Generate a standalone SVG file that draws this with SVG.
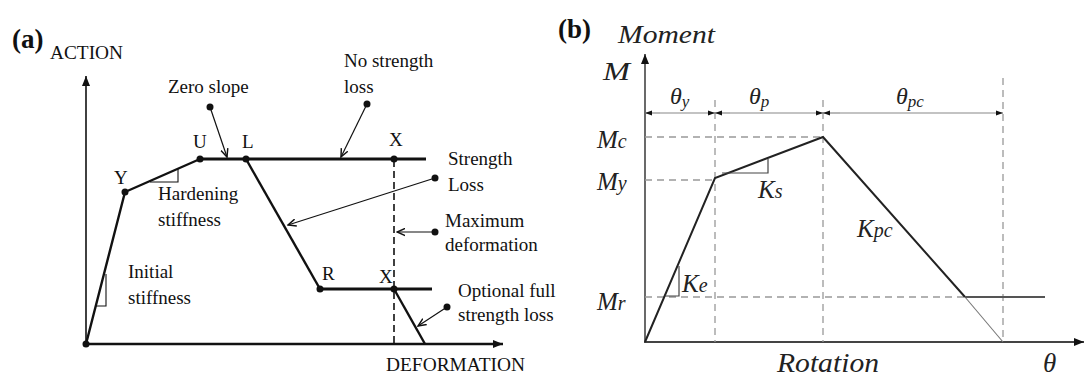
<svg xmlns="http://www.w3.org/2000/svg" width="1086" height="378" viewBox="0 0 1086 378">
<defs>
<style>
text{font-family:'Liberation Serif','DejaVu Serif',serif}
.t{fill:#111}
.a{font-size:19px}
.i{font-style:italic;fill:#222}
.bold{font-weight:bold;font-size:27px;fill:#111}
.ln{stroke:#111;fill:none}
.thick{stroke:#111;stroke-width:3.2;fill:none}
.lead{stroke:#111;stroke-width:1.2;fill:none;marker-end:url(#ah)}
.dash{stroke:#999;stroke-width:1.3;stroke-dasharray:7 5;fill:none}
</style>
<marker id="ah" viewBox="0 0 10 10" refX="9" refY="5" markerWidth="9" markerHeight="9" markerUnits="userSpaceOnUse" orient="auto">
<path d="M0,1 L9,5 L0,9" fill="none" stroke="#111" stroke-width="1.6"/>
</marker>
<marker id="ax" viewBox="0 0 10 10" refX="10" refY="5" markerWidth="14" markerHeight="10" markerUnits="userSpaceOnUse" orient="auto">
<path d="M0,1 L10,5 L0,9 Z" fill="#111"/>
</marker>
<marker id="dim" viewBox="0 0 10 10" refX="10" refY="5" markerWidth="16" markerHeight="7" markerUnits="userSpaceOnUse" orient="auto">
<path d="M0,1.5 L10,5 L0,8.5 Z" fill="#111"/>
</marker>
</defs>

<!-- Panel (a) -->
<g id="panel-a">
<text class="bold" x="12" y="48" font-family="Liberation Serif, serif">(a)</text>
<text class="t" x="50" y="59" font-size="18" textLength="73" lengthAdjust="spacingAndGlyphs" font-family="Liberation Serif, serif">ACTION</text>
<text class="t" x="386" y="371" font-size="19" textLength="139" lengthAdjust="spacingAndGlyphs" font-family="Liberation Serif, serif">DEFORMATION</text>
</g>

<g id="axes-a">
<line class="ln" x1="86" y1="344" x2="86" y2="76" stroke-width="1.6" marker-end="url(#ax)"/>
<line class="ln" x1="85" y1="344" x2="503" y2="344" stroke-width="2.4" marker-end="url(#ax)"/>
</g>

<g id="curve-a">
<polyline class="ln" points="86,344 125,192 200,159" stroke-width="2.4"/>
<line class="thick" x1="200" y1="159" x2="426" y2="159"/>
<line class="ln" x1="246" y1="159" x2="320" y2="289" stroke-width="2.4"/>
<line class="thick" x1="320" y1="289" x2="432" y2="289"/>
<line class="ln" x1="394" y1="289" x2="425" y2="344" stroke-width="2.4"/>
<line x1="394" y1="160" x2="394" y2="344" stroke="#111" stroke-width="1.6" stroke-dasharray="7 4"/>
<polyline class="ln" points="150,182 178,182 178,169" stroke-width="1.1"/>
<polyline class="ln" points="96,306 106,306 106,274" stroke-width="1.1"/>
</g>

<g id="node-Y"><circle cx="125" cy="192" r="3.5" fill="#111"/><text class="t a" x="114" y="184">Y</text></g>
<g id="node-U"><circle cx="200" cy="159" r="3.5" fill="#111"/><text class="t a" x="193" y="148">U</text></g>
<g id="node-L"><circle cx="246" cy="159" r="3.5" fill="#111"/><text class="t a" x="242" y="148">L</text></g>
<g id="node-X1"><circle cx="394" cy="159" r="3.5" fill="#111"/><text class="t a" x="389" y="146">X</text></g>
<g id="node-R"><circle cx="320" cy="289" r="3.5" fill="#111"/><text class="t a" x="322" y="280">R</text></g>
<g id="node-X2"><circle cx="394" cy="289" r="3.5" fill="#111"/><text class="t a" x="379" y="283">X</text></g>
<g id="node-O"><circle cx="86" cy="344" r="3.5" fill="#111"/></g>

<g id="label-zero-slope"><text class="t a" x="168" y="93">Zero slope</text><circle cx="210" cy="107" r="3.5" fill="#111"/></g>
<g id="label-hardening"><text class="t a" x="158" y="200">Hardening</text><text class="t a" x="158" y="226">stiffness</text></g>
<g id="label-initial"><text class="t a" x="128" y="278">Initial</text><text class="t a" x="128" y="304">stiffness</text></g>
<g id="label-no-strength-loss"><text class="t a" x="344" y="67">No strength</text><text class="t a" x="344" y="93">loss</text><circle cx="367" cy="104" r="3.5" fill="#111"/></g>
<g id="label-strength-loss"><text class="t a" x="448" y="165">Strength</text><text class="t a" x="448" y="191">Loss</text><circle cx="435" cy="178" r="3.5" fill="#111"/></g>
<g id="label-max-def"><text class="t a" x="445" y="227">Maximum</text><text class="t a" x="445" y="251">deformation</text><circle cx="435" cy="232" r="3.5" fill="#111"/></g>
<g id="label-optional"><text class="t a" x="458" y="297">Optional full</text><text class="t a" x="458" y="321">strength loss</text><circle cx="447" cy="307" r="3.5" fill="#111"/></g>

<g id="connectors-a">
<line class="lead" x1="210" y1="107" x2="227" y2="157"/>
<line class="lead" x1="367" y1="104" x2="341" y2="157"/>
<line class="lead" x1="435" y1="178" x2="288" y2="225"/>
<line class="lead" x1="435" y1="232" x2="397" y2="232"/>
<line class="lead" x1="447" y1="307" x2="418" y2="326"/>
</g>

<!-- Panel (b) -->
<g id="panel-b">
<text class="bold" x="558" y="38">(b)</text>
<text class="i" x="618" y="43" font-size="25" textLength="97" lengthAdjust="spacingAndGlyphs">Moment</text>
<text class="i" x="603" y="80" font-size="25" textLength="27" lengthAdjust="spacingAndGlyphs">M</text>
<text class="i" x="777" y="372" font-size="27" textLength="102" lengthAdjust="spacingAndGlyphs">Rotation</text>
<text class="i" x="1043" y="372" font-size="27">θ</text>
</g>

<g id="axes-b">
<line x1="645" y1="343" x2="645" y2="54" stroke="#444" stroke-width="1.6" marker-end="url(#ax)"/>
<line x1="644" y1="342" x2="1084" y2="342" stroke="#444" stroke-width="2.2" marker-end="url(#ax)"/>
</g>

<g id="guides-b">
<line class="dash" x1="645" y1="137" x2="823" y2="137"/>
<line class="dash" x1="645" y1="180" x2="715" y2="180"/>
<line class="dash" x1="645" y1="297" x2="965" y2="297"/>
<line class="dash" x1="715" y1="100" x2="715" y2="342"/>
<line class="dash" x1="823" y1="100" x2="823" y2="342"/>
<line class="dash" x1="1003" y1="78" x2="1003" y2="342"/>
</g>

<g id="dimensions-b">
<line x1="660" y1="113" x2="645" y2="113" stroke="#888" stroke-width="1.2" marker-end="url(#dim)"/>
<line x1="660" y1="113" x2="715" y2="113" stroke="#888" stroke-width="1.2" marker-end="url(#dim)"/>
<line x1="730" y1="113" x2="715" y2="113" stroke="#888" stroke-width="1.2" marker-end="url(#dim)"/>
<line x1="730" y1="113" x2="823" y2="113" stroke="#888" stroke-width="1.2" marker-end="url(#dim)"/>
<line x1="840" y1="113" x2="823" y2="113" stroke="#888" stroke-width="1.2" marker-end="url(#dim)"/>
<line x1="840" y1="113" x2="1003" y2="113" stroke="#888" stroke-width="1.2" marker-end="url(#dim)"/>
<text class="i" x="670" y="104" font-size="24">θ<tspan font-size="17" dy="3">y</tspan></text>
<text class="i" x="749" y="104" font-size="24">θ<tspan font-size="17" dy="3">p</tspan></text>
<text class="i" x="896" y="104" font-size="24">θ<tspan font-size="17" dy="3">pc</tspan></text>
</g>

<g id="curve-b">
<polyline points="645,342 715,178 823,137 965,297" fill="none" stroke="#222" stroke-width="2"/>
<line x1="965" y1="297" x2="1003" y2="342" stroke="#777" stroke-width="1.1"/>
<line x1="965" y1="297" x2="1045" y2="297" stroke="#555" stroke-width="2"/>
<polyline points="722,173 768,173 768,159" fill="none" stroke="#444" stroke-width="1.2"/>
<polyline points="665,296 679,296 679,266" fill="none" stroke="#444" stroke-width="1.2"/>
</g>

<g id="labels-b">
<text class="i" x="597" y="148" font-size="25">M<tspan font-size="20">c</tspan></text>
<text class="i" x="597" y="190" font-size="25">M<tspan font-size="20">y</tspan></text>
<text class="i" x="597" y="310" font-size="25">M<tspan font-size="20">r</tspan></text>
<text class="i" x="758" y="198" font-size="25">K<tspan font-size="20">s</tspan></text>
<text class="i" x="682" y="292" font-size="25">K<tspan font-size="20">e</tspan></text>
<text class="i" x="857" y="237" font-size="25">K<tspan font-size="20">pc</tspan></text>
</g>
</svg>
